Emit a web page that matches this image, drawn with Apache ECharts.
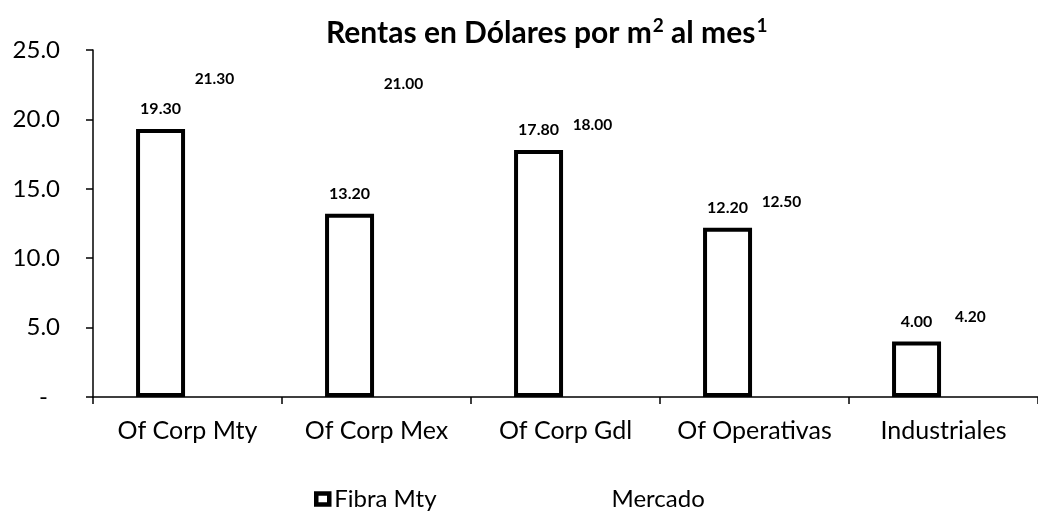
<!DOCTYPE html>
<html>
<head>
<meta charset="utf-8">
<script src="https://cdn.jsdelivr.net/npm/echarts@6/dist/echarts.min.js"></script>
<style>
html,body{margin:0;padding:0;background:#fff;}
#chart{width:1038px;height:513px;}
</style>
</head>
<body>
<div id="chart"></div>
<script>
const categories = ['Of Corp Mty', 'Of Corp Mex', 'Of Corp Gdl', 'Of Operativas', 'Industriales'];
const fibraMty = [19.30, 13.20, 17.80, 12.20, 4.00];
const mercado = [21.30, 21.00, 18.00, 12.50, 4.20];
const yTicks = [0, 5, 10, 15, 20, 25];

const FONT = 'Lato';
const chart = echarts.init(document.getElementById('chart'), null, {renderer: 'canvas'});
chart.setOption({
  backgroundColor: '#ffffff',
  animation: false,
  textStyle: {fontFamily: FONT, color: '#000'},
  title: {
    text: '{t|Rentas en Dólares por m}{s|2}{t| al mes}{s|1}',
    left: 321,
    top: 11,
    textStyle: {
      fontFamily: FONT, fontSize: 30, fontWeight: 'bold', color: '#000',
      rich: {
        t: {fontFamily: FONT, fontSize: 30, fontWeight: 'bold', color: '#000', lineHeight: 34},
        s: {fontFamily: FONT, fontSize: 19, fontWeight: 'bold', color: '#000', verticalAlign: 'top', lineHeight: 20, padding: [0, 0, 0, 1]}
      }
    }
  },
  legend: {
    left: 309,
    top: 482,
    itemWidth: 13,
    itemHeight: 11,
    itemGap: 157,
    textStyle: {fontFamily: FONT, fontSize: 24, color: '#000'},
    data: [
      {name: 'Fibra Mty', icon: 'rect', itemStyle: {color: '#fff', borderColor: '#000', borderWidth: 4.5}},
      {name: 'Mercado', icon: 'rect', itemStyle: {color: 'transparent', borderColor: 'transparent', borderWidth: 0}}
    ]
  },
  grid: {left: 93, right: -11, top: 50, bottom: 116, containLabel: false},
  xAxis: {
    type: 'category',
    data: categories,
    axisLine: {show: true, lineStyle: {color: '#000', width: 1.5}},
    axisTick: {show: true, interval: 0, length: 7, lineStyle: {color: '#000', width: 1.5}},
    axisLabel: {interval: 0, fontFamily: FONT, fontSize: 25, color: '#000', margin: 21}
  },
  yAxis: {
    type: 'value',
    min: yTicks[0],
    max: yTicks[yTicks.length - 1],
    interval: yTicks[1] - yTicks[0],
    axisLine: {show: true, lineStyle: {color: '#000', width: 1.5}},
    axisTick: {show: true, length: 7, lineStyle: {color: '#000', width: 1.5}},
    splitLine: {show: false},
    axisLabel: {
      fontFamily: FONT, fontSize: 24, color: '#000', margin: 33,
      formatter: v => v === 0 ? '{d|-}' : v.toFixed(1),
      rich: {d: {fontFamily: FONT, fontSize: 24, color: '#000', padding: [0, 12, 0, 0]}}
    }
  },
  series: [
    {
      name: 'Fibra Mty',
      type: 'bar',
      data: fibraMty,
      barWidth: 49,
      barGap: '10%',
      itemStyle: {color: '#fff', borderColor: '#000', borderWidth: 4},
      label: {show: true, position: 'top', distance: 12, formatter: p => p.value.toFixed(2),
        fontFamily: FONT, fontSize: 16, fontWeight: 'bold', color: '#000'}
    },
    {
      name: 'Mercado',
      type: 'bar',
      data: mercado,
      barWidth: 49,
      barGap: '10%',
      itemStyle: {color: 'transparent', borderColor: 'transparent', borderWidth: 0},
      label: {show: true, position: 'top', distance: 14, formatter: p => p.value.toFixed(2),
        fontFamily: FONT, fontSize: 15.5, fontWeight: 'bold', color: '#000'}
    }
  ]
});
</script>
</body>
</html>
